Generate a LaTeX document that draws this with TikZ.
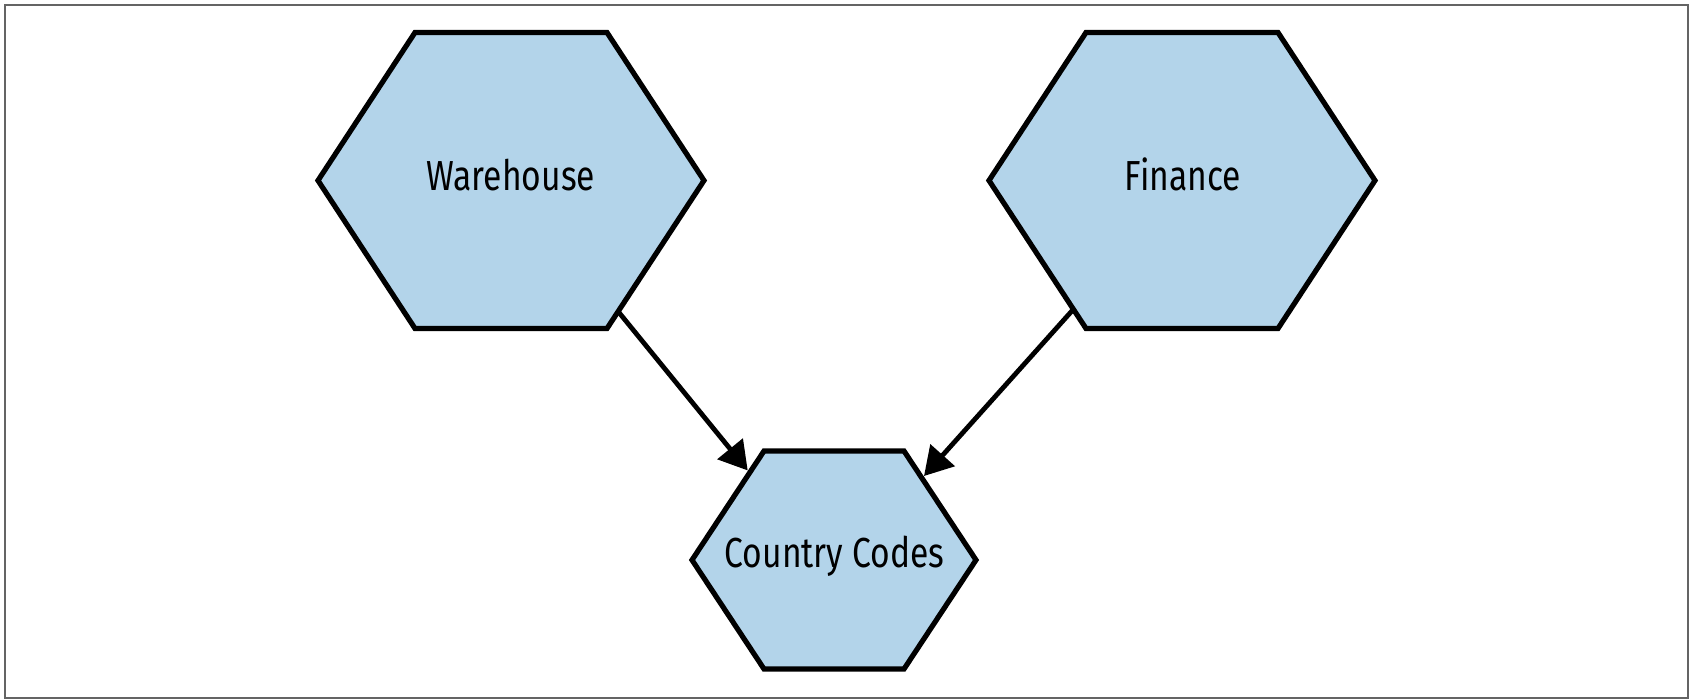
\documentclass[tikz,border=0pt]{standalone}
\usepackage{fontspec}
\setmainfont{Fira Sans}[FakeStretch=0.8]
\usetikzlibrary{calc,arrows.meta}
\definecolor{hexfill}{RGB}{179,212,234}
\definecolor{framegray}{RGB}{100,100,100}
\begin{document}
\begin{tikzpicture}[x=0.5pt,y=-0.5pt,
  hexa/.style={draw=black,fill=hexfill,line width=2.6pt,line join=miter},
  lbl/.style={font=\fontsize{21}{25}\selectfont,inner sep=0pt,anchor=base},
  conn/.style={draw=black,line width=2.4pt,shorten >=1.5pt,-{Triangle[length=14pt,width=16pt]}}]
\useasboundingbox (0,0) rectangle (1692,700);
\draw[framegray,line width=1pt] (4.5,5.5) rectangle (1688,698);
% Warehouse hexagon
\coordinate (W1) at (318,180.5);
\coordinate (W2) at (415,32.5);
\coordinate (W3) at (607,32.5);
\coordinate (W4) at (704,180.5);
\coordinate (W5) at (607,328.5);
\coordinate (W6) at (415,328.5);
\draw[hexa] (W1) -- (W2) -- (W3) -- (W4) -- (W5) -- (W6) -- cycle;
\node[lbl] (wh) at (511,191) {Warehouse};
% Finance hexagon
\coordinate (F1) at (989,180.5);
\coordinate (F2) at (1086,32.5);
\coordinate (F3) at (1278,32.5);
\coordinate (F4) at (1375,180.5);
\coordinate (F5) at (1278,328.5);
\coordinate (F6) at (1086,328.5);
\draw[hexa] (F1) -- (F2) -- (F3) -- (F4) -- (F5) -- (F6) -- cycle;
\node[lbl] (fi) at (1183,191) {Finance};
% Country Codes hexagon
\coordinate (C1) at (692,560);
\coordinate (C2) at (764,451);
\coordinate (C3) at (904,451);
\coordinate (C4) at (976,560);
\coordinate (C5) at (904,669);
\coordinate (C6) at (764,669);
\draw[hexa] (C1) -- (C2) -- (C3) -- (C4) -- (C5) -- (C6) -- cycle;
\node[lbl] (cc) at (834.5,567) {Country Codes};
% connectors
\coordinate (ws) at ($(W4)!0.885!(W5)$);
\coordinate (we) at ($(C2)!0.2!(C1)$);
\coordinate (fs) at ($(F1)!0.87!(F6)$);
\coordinate (fe) at ($(C3)!0.25!(C4)$);
\draw[conn] (ws) -- (we);
\draw[conn] (fs) -- (fe);
\end{tikzpicture}
\end{document}
